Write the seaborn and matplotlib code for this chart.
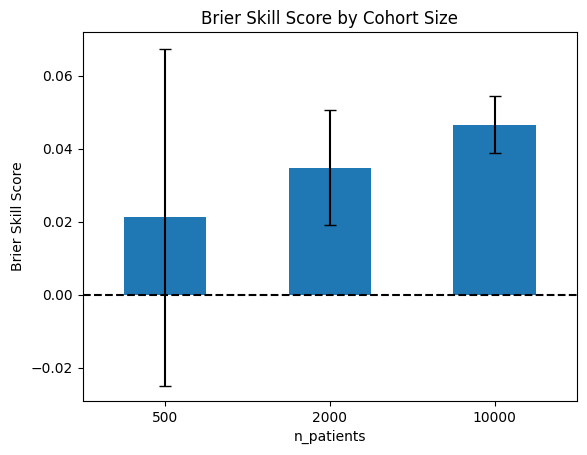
import matplotlib
matplotlib.use('Agg')
import matplotlib.pyplot as plt
import seaborn as sns
import pandas as pd
import numpy as np

# Datos
n_patients = ['500', '2000', '10000']
bss_mean = [0.0212, 0.0348, 0.0466]
bss_err = [0.0462, 0.0157, 0.0078]

df = pd.DataFrame({'n_patients': n_patients, 'bss': bss_mean})

fig = plt.figure(figsize=(5.87, 4.55), dpi=100)
ax = fig.add_axes([0.141, 0.119, 0.842, 0.811])

sns.barplot(data=df, x='n_patients', y='bss', color='#1f77b4', saturation=1,
            width=0.5, errorbar=None, ax=ax)
ax.errorbar(np.arange(len(n_patients)), bss_mean, yerr=bss_err, fmt='none',
            ecolor='black', capsize=4, linewidth=1.5)
ax.axhline(0, color='black', linestyle='--', linewidth=1.5)

ax.set_xlim(-0.5, 2.5)
ax.set_ylim(-0.029, 0.072)
ax.set_title('Brier Skill Score by Cohort Size')
ax.set_xlabel('n_patients')
ax.set_ylabel('Brier Skill Score')

fig.savefig('out.png', dpi=100, facecolor='white')
